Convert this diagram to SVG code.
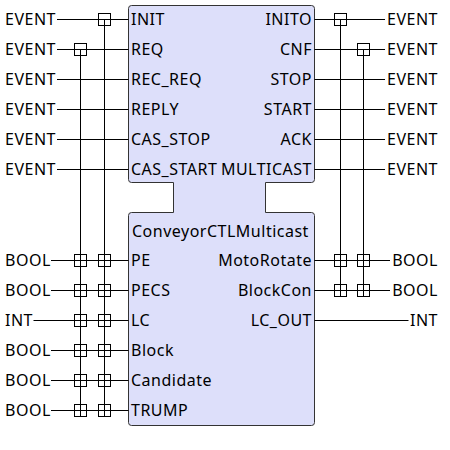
<svg xmlns="http://www.w3.org/2000/svg" width="450" height="450" viewBox="0 0 450 450">
<style>
text{font-family:"Noto Sans","Open Sans","DejaVu Sans",sans-serif;font-size:16px;letter-spacing:0.5px;fill:#000}
.r{text-anchor:end}
.ln{stroke:#000;stroke-width:1;fill:none}
.bx{stroke:#000;stroke-width:1;fill:none}
.body{fill:#dddffa;stroke:#333;stroke-width:1}
</style>
<defs>
<rect id="b" x="-6" y="-6" width="12" height="12" class="bx"/>
</defs>
<rect width="450" height="450" fill="#fff"/>
<g id="fb">
<path class="body" d="M128.5,8.5 Q128.5,5.5 131.5,5.5 H311.5 Q314.5,5.5 314.5,8.5 V179.5 Q314.5,182.5 311.5,182.5 H265.5 V212.5 H311.5 Q314.5,212.5 314.5,215.5 V422.5 Q314.5,425.5 311.5,425.5 H131.5 Q128.5,425.5 128.5,422.5 V215.5 Q128.5,212.5 131.5,212.5 H173.5 V182.5 H131.5 Q128.5,182.5 128.5,179.5 Z"/>
<text x="131" y="25">INIT</text>
<text x="131" y="55">REQ</text>
<text x="131" y="85">REC_REQ</text>
<text x="131" y="115">REPLY</text>
<text x="131" y="145">CAS_STOP</text>
<text x="131" y="175">CAS_START</text>
<text class="r" x="312" y="25">INITO</text>
<text class="r" x="312" y="55">CNF</text>
<text class="r" x="312" y="85">STOP</text>
<text class="r" x="312" y="115">START</text>
<text class="r" x="312" y="145">ACK</text>
<text class="r" x="312" y="175">MULTICAST</text>
<text x="132" y="237">ConveyorCTLMulticast</text>
<text x="131" y="266">PE</text>
<text x="131" y="296">PECS</text>
<text x="131" y="326">LC</text>
<text x="131" y="356">Block</text>
<text x="131" y="386">Candidate</text>
<text x="131" y="416">TRUMP</text>
<text class="r" x="312" y="266">MotoRotate</text>
<text class="r" x="312" y="296">BlockCon</text>
<text class="r" x="312" y="326">LC_OUT</text>
</g>
<g id="labels-left">
<text x="5" y="25">EVENT</text>
<text x="5" y="55">EVENT</text>
<text x="5" y="85">EVENT</text>
<text x="5" y="115">EVENT</text>
<text x="5" y="145">EVENT</text>
<text x="5" y="175">EVENT</text>
<text x="5" y="266">BOOL</text>
<text x="5" y="296">BOOL</text>
<text x="5" y="326">INT</text>
<text x="5" y="356">BOOL</text>
<text x="5" y="386">BOOL</text>
<text x="5" y="416">BOOL</text>
</g>
<g id="labels-right">
<text class="r" x="438" y="25">EVENT</text>
<text class="r" x="438" y="55">EVENT</text>
<text class="r" x="438" y="85">EVENT</text>
<text class="r" x="438" y="115">EVENT</text>
<text class="r" x="438" y="145">EVENT</text>
<text class="r" x="438" y="175">EVENT</text>
<text class="r" x="438" y="266">BOOL</text>
<text class="r" x="438" y="296">BOOL</text>
<text class="r" x="438" y="326">INT</text>
</g>
<g id="connectors" class="ln">
<path d="M57,19.5H128.5 M57,49.5H128.5 M57,79.5H128.5 M57,109.5H128.5 M57,139.5H128.5 M57,169.5H128.5"/>
<path d="M51,260.5H128.5 M51,290.5H128.5 M33.5,320.5H128.5 M51,350.5H128.5 M51,380.5H128.5 M51,410.5H128.5"/>
<path d="M314.5,19.5H385 M314.5,49.5H385 M314.5,79.5H385 M314.5,109.5H385 M314.5,139.5H385 M314.5,169.5H385"/>
<path d="M314.5,260.5H390 M314.5,290.5H390 M314.5,320.5H408.5"/>
<path d="M104.5,19.5V416.5 M80.5,49.5V416.5 M340.5,19.5V296.5 M363.5,49.5V296.5"/>
<use href="#b" x="104.5" y="19.5"/>
<use href="#b" x="80.5" y="49.5"/>
<use href="#b" x="340.5" y="19.5"/>
<use href="#b" x="363.5" y="49.5"/>
<use href="#b" x="80.5" y="260.5"/><use href="#b" x="104.5" y="260.5"/>
<use href="#b" x="80.5" y="290.5"/><use href="#b" x="104.5" y="290.5"/>
<use href="#b" x="80.5" y="320.5"/><use href="#b" x="104.5" y="320.5"/>
<use href="#b" x="80.5" y="350.5"/><use href="#b" x="104.5" y="350.5"/>
<use href="#b" x="80.5" y="380.5"/><use href="#b" x="104.5" y="380.5"/>
<use href="#b" x="80.5" y="410.5"/><use href="#b" x="104.5" y="410.5"/>
<use href="#b" x="340.5" y="260.5"/><use href="#b" x="363.5" y="260.5"/>
<use href="#b" x="340.5" y="290.5"/><use href="#b" x="363.5" y="290.5"/>
</g>
</svg>
